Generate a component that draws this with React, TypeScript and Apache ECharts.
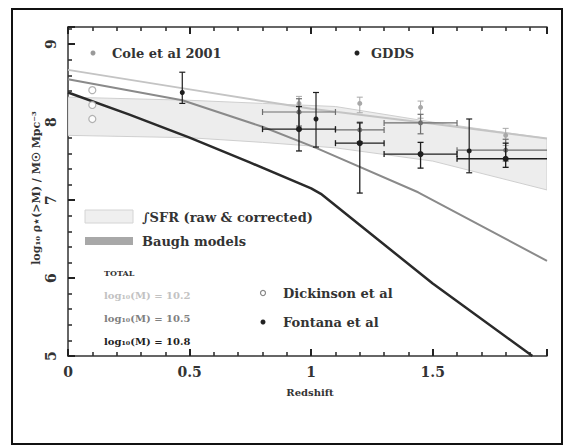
import React, { useEffect, useRef } from "react";
import * as echarts from "echarts";

// ---- axes ----
const xMin = 0;
const xMax = 1.97;
const yMin = 5;
const yMax = 9.22;

// ---- Baugh model curves [z, log rho] ----
const model102 = [[0, 8.67], [0.5, 8.42], [1.0, 8.17], [1.5, 7.98], [1.97, 7.79]];
const model105 = [[0, 8.55], [0.47, 8.28], [0.8, 7.94], [1.02, 7.67], [1.44, 7.1], [1.97, 6.22]];
const model108 = [[0, 8.38], [0.25, 8.1], [0.5, 7.8], [0.75, 7.48], [1.0, 7.15], [1.04, 7.08], [1.2, 6.68], [1.5, 5.93], [1.91, 5.0]];

// ---- integrated SFR band ----
const sfrZ = [0, 0.5, 0.8, 1.1, 1.5, 1.97];
const sfrUpper = [8.32, 8.28, 8.24, 8.2, 8.0, 7.79];
const sfrLower = [7.83, 7.8, 7.74, 7.67, 7.5, 7.13];

// ---- data points [z, value, errLow, errHigh, zLow, zHigh] ----
const gdds102 = [
  [0.95, 8.24, 8.12, 8.33, 0.95, 0.95],
  [1.2, 8.24, 8.12, 8.32, 1.2, 1.2],
  [1.45, 8.19, 8.05, 8.27, 1.45, 1.45],
  [1.8, 7.83, 7.7, 7.92, 1.8, 1.8],
];
const gdds105 = [
  [0.95, 8.13, 7.95, 8.3, 0.8, 1.1],
  [1.2, 7.9, 7.75, 8.0, 1.1, 1.3],
  [1.45, 7.99, 7.85, 8.1, 1.3, 1.6],
  [1.8, 7.64, 7.5, 7.78, 1.6, 2.0],
];
const gdds108 = [
  [0.95, 7.91, 7.63, 8.2, 0.8, 1.1],
  [1.2, 7.73, 7.09, 7.99, 1.1, 1.3],
  [1.45, 7.59, 7.41, 7.74, 1.3, 1.6],
  [1.8, 7.53, 7.42, 7.73, 1.6, 2.0],
];
const fontana = [
  [0.47, 8.38, 8.24, 8.64, 0.47, 0.47],
  [1.02, 8.04, 7.68, 8.38, 1.02, 1.02],
  [1.65, 7.63, 7.35, 8.04, 1.65, 1.65],
];
const cole = [
  [0.1, 8.41],
  [0.1, 8.22],
  [0.1, 8.04],
];

const FONT = "'DejaVu Serif', 'Liberation Serif', serif";
const TXT = "#333";

function errSeries(name: string, data: number[][], color: string, r: number, lw: number, z: number) {
  return {
    name,
    type: "custom",
    clip: true,
    z,
    encode: { x: 0, y: 1 },
    data,
    renderItem: (params: any, api: any) => {
      const x = api.value(0), y = api.value(1);
      const ylo = api.value(2), yhi = api.value(3);
      const xlo = api.value(4), xhi = api.value(5);
      const p = api.coord([x, y]);
      const lo = api.coord([x, ylo]);
      const hi = api.coord([x, yhi]);
      const st = { stroke: color, lineWidth: lw };
      const cap = 3;
      const children: any[] = [
        { type: "line", shape: { x1: p[0], y1: lo[1], x2: p[0], y2: hi[1] }, style: st },
        { type: "line", shape: { x1: p[0] - cap, y1: lo[1], x2: p[0] + cap, y2: lo[1] }, style: st },
        { type: "line", shape: { x1: p[0] - cap, y1: hi[1], x2: p[0] + cap, y2: hi[1] }, style: st },
      ];
      if (xhi > xlo) {
        const a = api.coord([xlo, y]);
        const b = api.coord([xhi, y]);
        children.push({ type: "line", shape: { x1: a[0], y1: p[1], x2: b[0], y2: p[1] }, style: st });
        children.push({ type: "line", shape: { x1: a[0], y1: p[1] - cap, x2: a[0], y2: p[1] + cap }, style: st });
        children.push({ type: "line", shape: { x1: b[0], y1: p[1] - cap, x2: b[0], y2: p[1] + cap }, style: st });
      }
      children.push({ type: "circle", shape: { cx: p[0], cy: p[1], r }, style: { fill: color } });
      return { type: "group", children };
    },
  };
}

function lineSeries(name: string, data: number[][], color: string, width: number, z: number) {
  return {
    name,
    type: "line",
    data,
    showSymbol: false,
    symbol: "none",
    z,
    lineStyle: { color, width },
    clip: true,
  };
}

function makeAxis(extra: any) {
  return {
    type: "value",
    axisLine: { show: true, onZero: false, lineStyle: { color: "#333", width: 1.5 } },
    axisTick: { show: true, inside: true, length: 7, lineStyle: { color: "#222", width: 2 } },
    minorTick: { show: true, splitNumber: 5, length: 4, lineStyle: { color: "#333", width: 1.6 } },
    splitLine: { show: false },
    ...extra,
  };
}

export default function App() {
  const ref = useRef<HTMLDivElement>(null);
  useEffect(() => {
    if (!ref.current) return;
    const chart = echarts.init(ref.current, undefined, { renderer: "svg" });

    const legendText = (x: number, y: number, text: string, size: number, color: string, weight = "bold") => ({
      type: "text",
      x,
      y,
      silent: true,
      style: {
        text,
        fill: color,
        font: `${weight} ${size}px ${FONT}`,
        align: "left",
        verticalAlign: "middle",
      },
    });

    chart.setOption({
      animation: false,
      grid: { left: 68, top: 27, right: 26, bottom: 91 },
      xAxis: [
        makeAxis({
          position: "bottom",
          min: xMin,
          max: xMax,
          interval: 0.5,
          axisLabel: {
            show: true,
            margin: 9,
            fontSize: 14,
            fontFamily: FONT,
            fontWeight: "bold",
            color: TXT,
            showMaxLabel: false,
            formatter: (v: number) => String(v),
          },
        }),
        makeAxis({
          position: "top",
          min: xMin,
          max: xMax,
          interval: 0.5,
          axisLabel: { show: false },
        }),
      ],
      yAxis: [
        makeAxis({
          position: "left",
          min: yMin,
          max: yMax,
          interval: 1,
          axisLabel: {
            show: true,
            rotate: 90,
            margin: 10,
            fontSize: 14,
            fontFamily: FONT,
            fontWeight: "bold",
            color: TXT,
            showMaxLabel: false,
            formatter: (v: number) => String(v),
          },
        }),
      ],
      series: [
        {
          name: "SFR band",
          type: "custom",
          clip: true,
          z: 1,
          encode: { x: 0, y: 1 },
          data: [[sfrZ[0], sfrLower[0]]],
          renderItem: (params: any, api: any) => {
            const top = sfrZ.map((z, i) => api.coord([z, sfrUpper[i]]));
            const bot = sfrZ.map((z, i) => api.coord([z, sfrLower[i]])).reverse();
            return {
              type: "polygon",
              shape: { points: top.concat(bot) },
              style: { fill: "#ededed", stroke: "#cfcfcf", lineWidth: 1 },
            };
          },
        },
        lineSeries("log M = 10.2", model102, "#c4c4c4", 2, 3),
        lineSeries("log M = 10.5", model105, "#8a8a8a", 2, 3),
        lineSeries("log M = 10.8", model108, "#2a2a2a", 2.5, 3),
        errSeries("GDDS 10.2", gdds102, "#a8a8a8", 2.5, 1, 5),
        errSeries("GDDS 10.5", gdds105, "#6e6e6e", 2.5, 1.2, 6),
        errSeries("GDDS 10.8", gdds108, "#1e1e1e", 3, 1.3, 7),
        errSeries("Fontana et al", fontana, "#1e1e1e", 2.5, 1.2, 7),
        {
          name: "Cole et al 2001",
          type: "scatter",
          data: cole,
          symbol: "circle",
          symbolSize: 7,
          z: 6,
          itemStyle: { color: "#fff", borderColor: "#a0a0a0", borderWidth: 1.2 },
        },
      ],
      graphic: [
        {
          type: "rect",
          silent: true,
          shape: { x: 12, y: 9, width: 550, height: 435 },
          style: { fill: "none", stroke: "#111", lineWidth: 2 },
        },
        {
          type: "text",
          x: 36,
          y: 188,
          rotation: Math.PI / 2,
          silent: true,
          style: {
            text: "log₁₀ ρ⋆(>M) / M☉ Mpc⁻³",
            fill: TXT,
            font: `bold 11px ${FONT}`,
            align: "center",
            verticalAlign: "middle",
          },
        },
        {
          type: "text",
          x: 310,
          y: 392,
          silent: true,
          style: {
            text: "Redshift",
            fill: TXT,
            font: `bold 10px ${FONT}`,
            align: "center",
            verticalAlign: "middle",
          },
        },
        { type: "circle", silent: true, shape: { cx: 93, cy: 53, r: 2.5 }, style: { fill: "#999" } },
        legendText(112, 53, "Cole et al 2001", 13, TXT),
        { type: "circle", silent: true, shape: { cx: 357, cy: 53, r: 2.5 }, style: { fill: "#222" } },
        legendText(371, 53, "GDDS", 13, TXT),
        {
          type: "rect",
          silent: true,
          shape: { x: 85, y: 210, width: 48, height: 13 },
          style: { fill: "#efefef", stroke: "#d4d4d4", lineWidth: 1 },
        },
        legendText(142, 217, "∫SFR (raw & corrected)", 13, TXT),
        {
          type: "rect",
          silent: true,
          shape: { x: 85, y: 237, width: 48, height: 8 },
          style: { fill: "#a8a8a8" },
        },
        legendText(142, 241, "Baugh models", 13, TXT),
        legendText(104, 273, "TOTAL", 8, TXT),
        legendText(104, 295, "log₁₀(M) = 10.2", 10, "#c2c2c2"),
        legendText(104, 318, "log₁₀(M) = 10.5", 10, "#808080"),
        legendText(104, 341, "log₁₀(M) = 10.8", 10, "#1e1e1e"),
        {
          type: "circle",
          silent: true,
          shape: { cx: 263, cy: 293, r: 2.5 },
          style: { fill: "#fff", stroke: "#888", lineWidth: 1.2 },
        },
        legendText(283, 293, "Dickinson et al", 13, TXT),
        { type: "circle", silent: true, shape: { cx: 263, cy: 322, r: 2.5 }, style: { fill: "#222" } },
        legendText(283, 322, "Fontana et al", 13, TXT),
      ],
    });

    return () => chart.dispose();
  }, []);

  return (
    <div
      ref={ref}
      style={{ position: "fixed", left: 0, top: 0, width: 573, height: 447, background: "#fff" }}
    />
  );
}
